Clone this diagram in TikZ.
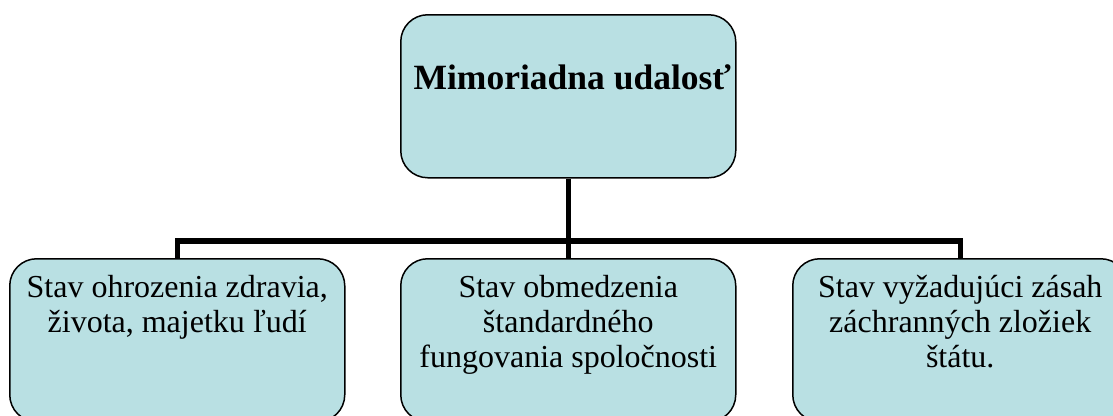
\documentclass[tikz,border=0pt]{standalone}
\usepackage{fontspec}
\setmainfont{Liberation Serif}
\definecolor{boxfill}{RGB}{185,224,227}
\tikzset{
  box/.style={draw=black, line width=1.5bp, fill=boxfill, rounded corners=27bp,
              inner sep=0pt, anchor=north west},
  conn/.style={draw=black, line width=5.5bp, line join=miter, line cap=butt},
}
\newcommand{\boxtext}[2]{\begin{minipage}[t][163bp][t]{335bp}\centering\rule{0pt}{#1}#2\par\end{minipage}}
\begin{document}
\begin{tikzpicture}[x=1bp,y=-1bp]
\useasboundingbox (0,0) rectangle (1113,415);
\clip (0,0) rectangle (1113,415);
\node[box] (top) at (400,14) {\boxtext{75bp}{\fontsize{35.5bp}{40bp}\selectfont\bfseries\makebox[0pt][c]{\hspace{8bp}Mimoriadna udalosť}}};
\node[box] (left) at (9,258) {\boxtext{39bp}{\fontsize{32bp}{35bp}\selectfont Stav ohrozenia zdravia,\\života, majetku ľudí}};
\node[box] (mid) at (400,258) {\boxtext{39bp}{\fontsize{32bp}{35bp}\selectfont Stav obmedzenia\\štandardného\\fungovania spoločnosti}};
\node[box] (right) at (792,258) {\boxtext{39bp}{\fontsize{32bp}{35bp}\selectfont Stav vyžadujúci zásah\\záchranných zložiek\\štátu.}};
\coordinate (bus) at (top.south |- 0,241);
\draw[conn] (top.south) -- (bus);
\draw[conn] (left.north) -- (left.north |- bus) -- (right.north |- bus) -- (right.north);
\draw[conn] (bus) -- (mid.north);
\end{tikzpicture}
\end{document}
